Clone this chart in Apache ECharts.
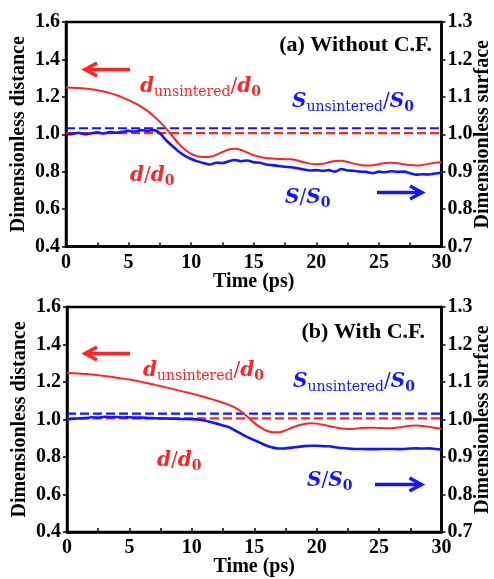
<!DOCTYPE html>
<html>
<head>
<meta charset="utf-8">
<script src="https://cdn.jsdelivr.net/npm/echarts@6/dist/echarts.min.js"></script>
<style>
  html, body { margin: 0; padding: 0; background: #fff; }
  #chart { width: 494px; height: 579px; }
</style>
</head>
<body>
<div id="chart"></div>
<script>
// Sampling times (ps), shared by both panels
const time = [0,0.5,1,1.5,2,2.5,3,3.5,4,4.5,5,5.5,6,6.5,7,7.5,8,8.5,9,9.5,10,10.5,11,11.5,12,12.5,13,13.5,14,14.5,15,15.5,16,16.5,17,17.5,18,18.5,19,19.5,20,20.5,21,21.5,22,22.5,23,23.5,24,24.5,25,25.5,26,26.5,27,27.5,28,28.5,29,29.5,30];

// (a) Without C.F.: dimensionless distance d/d0 (left axis)
const distA = [1.250,1.249,1.247,1.244,1.240,1.235,1.228,1.220,1.210,1.197,1.182,1.166,1.148,1.125,1.098,1.066,1.030,0.990,0.950,0.918,0.895,0.882,0.878,0.880,0.890,0.905,0.918,0.922,0.916,0.902,0.888,0.878,0.873,0.870,0.868,0.867,0.866,0.860,0.850,0.843,0.840,0.842,0.850,0.857,0.858,0.852,0.843,0.836,0.833,0.834,0.840,0.846,0.848,0.845,0.840,0.835,0.833,0.836,0.842,0.848,0.850];
// (a) Without C.F.: dimensionless surface S/S0 (right axis)
const surfA = [1.000,1.001,1.004,1.000,1.0025,1.005,1.002,1.006,1.004,1.0065,1.009,1.007,1.011,1.009,1.011,1.0025,0.984,0.9685,0.954,0.9425,0.934,0.9275,0.923,0.919,0.924,0.923,0.928,0.931,0.928,0.930,0.925,0.924,0.919,0.9175,0.915,0.913,0.912,0.909,0.906,0.903,0.904,0.902,0.904,0.900,0.907,0.903,0.9025,0.900,0.8995,0.896,0.900,0.8985,0.901,0.8995,0.900,0.896,0.892,0.893,0.8925,0.895,0.898];
// (a) unsintered reference levels
const distUnsinteredA = 1.006;
const surfUnsinteredA = 1.016;

// (b) With C.F.: dimensionless distance d/d0 (left axis)
const distB = [1.248,1.247,1.245,1.243,1.240,1.236,1.232,1.228,1.223,1.218,1.213,1.207,1.200,1.193,1.186,1.178,1.170,1.162,1.154,1.146,1.138,1.129,1.120,1.110,1.100,1.089,1.077,1.062,1.040,1.012,0.982,0.958,0.940,0.932,0.932,0.942,0.956,0.968,0.976,0.980,0.978,0.972,0.965,0.958,0.952,0.950,0.951,0.954,0.956,0.956,0.955,0.954,0.954,0.957,0.962,0.967,0.968,0.965,0.961,0.955,0.950];
// (b) With C.F.: dimensionless surface S/S0 (right axis)
const surfB = [1.000,1.002,1.003,1.004,1.006,1.005,1.007,1.006,1.0065,1.0055,1.006,1.005,1.005,1.004,1.0035,1.003,1.0025,1.002,1.0015,1.0015,1.001,1.000,0.9975,0.9935,0.989,0.984,0.979,0.970,0.961,0.9525,0.945,0.9375,0.930,0.925,0.9225,0.923,0.925,0.927,0.929,0.930,0.930,0.929,0.9285,0.926,0.924,0.9225,0.9215,0.9215,0.921,0.921,0.921,0.9215,0.9215,0.921,0.9215,0.9225,0.923,0.9225,0.923,0.9215,0.920];
// (b) unsintered reference levels
const distUnsinteredB = 1.006;
const surfUnsinteredB = 1.0155;

// Axis ranges and tick steps
const timeRange = [0, 30], timeStep = 2.5;
const distRange = [0.4, 1.6], distStep = 0.2;
const surfRange = [0.7, 1.3], surfStep = 0.1;

const RED = '#ff2424';
const BLUE = '#1414ff';
const SERIF = 'Liberation Serif';
const MATH = 'DejaVu Serif';

const pairs = (xs, ys) => xs.map((x, i) => [x, ys[i]]);
const flat = v => [[timeRange[0], v], [timeRange[1], v]];

function xAxisFor(gridIndex) {
  return {
    type: 'value', gridIndex, min: timeRange[0], max: timeRange[1], interval: timeStep,
    name: 'Time (ps)', nameLocation: 'middle', nameGap: 25, nameMoveOverlap: false,
    nameTextStyle: { fontFamily: SERIF, fontWeight: 'bold', fontSize: 20, color: '#000' },
    axisLine: { lineStyle: { color: '#000', width: 2.5 } },
    axisTick: { inside: true, length: 4, lineStyle: { color: '#000', width: 1.5 } },
    axisLabel: {
      margin: 6, fontFamily: SERIF, fontWeight: 'bold', fontSize: 20, color: '#000',
      formatter: v => (v % 5 === 0 ? String(v) : '')
    },
    splitLine: { show: false }
  };
}

function leftAxisFor(gridIndex) {
  return {
    type: 'value', gridIndex, position: 'left', min: distRange[0], max: distRange[1], interval: distStep,
    name: 'Dimensionless distance', nameLocation: 'middle', nameGap: 37, nameRotate: 90,
    nameMoveOverlap: false,
    nameTextStyle: { fontFamily: SERIF, fontWeight: 'bold', fontSize: 20, color: '#000' },
    axisLine: { show: true, lineStyle: { color: '#000', width: 2.5 } },
    axisTick: { show: true, length: 4, lineStyle: { color: '#000', width: 1.5 } },
    axisLabel: { margin: 6, fontFamily: SERIF, fontWeight: 'bold', fontSize: 20, color: '#000',
      formatter: v => v.toFixed(1) },
    splitLine: { show: false }
  };
}

function rightAxisFor(gridIndex) {
  return {
    type: 'value', gridIndex, position: 'right', min: surfRange[0], max: surfRange[1], interval: surfStep,
    name: 'Dimensionless surface', nameLocation: 'middle', nameGap: 31, nameRotate: 90,
    nameMoveOverlap: false,
    nameTextStyle: { fontFamily: SERIF, fontWeight: 'bold', fontSize: 20, color: '#000' },
    axisLine: { show: true, lineStyle: { color: '#000', width: 2.5 } },
    axisTick: { show: true, length: 4, lineStyle: { color: '#000', width: 1.5 } },
    axisLabel: { margin: 6, fontFamily: SERIF, fontWeight: 'bold', fontSize: 20, color: '#000',
      formatter: v => v.toFixed(1) },
    splitLine: { show: false }
  };
}

function lineSeries(xi, yi, data, color, width, dashed) {
  return {
    type: 'line', xAxisIndex: xi, yAxisIndex: yi, data,
    showSymbol: false, smooth: dashed ? false : 0.25, silent: true,
    lineStyle: { color, width, type: dashed ? [9, 4] : 'solid' },
    z: dashed ? 2 : 3
  };
}

// Math-style label: italic bold symbols with upright subscripts
function mathText(color, sym, sub, sym2, sub2) {
  let text = '{v|' + sym + '}';
  if (sub) text += '{s|' + sub + '}';
  text += '{sl|/}{v|' + sym2 + '}{z|' + sub2 + '}';
  return {
    text,
    rich: {
      v: { fontFamily: MATH, fontStyle: 'italic', fontWeight: 'bold', fontSize: 20, lineHeight: 24, fill: color },
      s: { fontFamily: MATH, fontSize: 14, lineHeight: 15, verticalAlign: 'bottom', fill: color },
      sl: { fontFamily: MATH, fontSize: 20, lineHeight: 24, fill: color },
      z: { fontFamily: MATH, fontWeight: 'bold', fontSize: 14, lineHeight: 15, verticalAlign: 'bottom', fill: color }
    },
    verticalAlign: 'top'
  };
}

function label(x, y, style) {
  return { type: 'text', x, y, z: 10, style };
}

function arrow(x1, x2, y, color) {
  // shaft from x1 to tip x2, with an open head at the tip
  const dir = x2 > x1 ? 1 : -1;
  return {
    type: 'group', z: 10,
    children: [
      { type: 'line', shape: { x1, y1: y, x2: x2 - dir * 2, y2: y },
        style: { stroke: color, lineWidth: 3.5 } },
      { type: 'polyline', shape: { points: [[x2 - dir * 12, y - 6.5], [x2, y], [x2 - dir * 12, y + 6.5]] },
        style: { stroke: color, lineWidth: 3.5, fill: 'none', lineJoin: 'miter' } }
    ]
  };
}

function panelTitle(xRight, yMid, text) {
  return { type: 'text', x: xRight, y: yMid, z: 10,
    style: { text, align: 'right', verticalAlign: 'middle',
      font: 'bold 22px "' + SERIF + '"', fill: '#000' } };
}

const chart = echarts.init(document.getElementById('chart'), null, { renderer: 'canvas' });

const gridBase = { show: true, borderColor: '#000', borderWidth: 2.5, backgroundColor: 'transparent',
  containLabel: false, outerBoundsMode: 'none' };

chart.setOption({
  backgroundColor: '#fff',
  animation: false,
  grid: [
    Object.assign({ left: 66, top: 22, width: 375.5, height: 224.5 }, gridBase),
    Object.assign({ left: 67, top: 307, width: 374.5, height: 225 }, gridBase)
  ],
  xAxis: [xAxisFor(0), xAxisFor(1)],
  yAxis: [leftAxisFor(0), rightAxisFor(0), leftAxisFor(1), rightAxisFor(1)],
  series: [
    lineSeries(0, 0, flat(distUnsinteredA), RED, 2.2, true),
    lineSeries(0, 1, flat(surfUnsinteredA), BLUE, 2.2, true),
    lineSeries(0, 0, pairs(time, distA), RED, 2),
    lineSeries(0, 1, pairs(time, surfA), BLUE, 2.6),

    lineSeries(1, 2, flat(distUnsinteredB), RED, 2.2, true),
    lineSeries(1, 3, flat(surfUnsinteredB), BLUE, 2.2, true),
    lineSeries(1, 2, pairs(time, distB), RED, 2),
    lineSeries(1, 3, pairs(time, surfB), BLUE, 2.6)
  ],
  graphic: [
    panelTitle(432, 45, '(a) Without C.F.'),
    arrow(130, 85, 69.5, RED),
    label(140, 75, mathText(RED, 'd', 'unsintered', 'd', '0')),
    label(292, 90, mathText(BLUE, 'S', 'unsintered', 'S', '0')),
    label(130, 164, mathText(RED, 'd', '', 'd', '0')),
    label(285, 186, mathText(BLUE, 'S', '', 'S', '0')),
    arrow(377, 422, 192.5, BLUE),

    panelTitle(425, 332, '(b) With C.F.'),
    arrow(130, 85, 353.5, RED),
    label(143, 359, mathText(RED, 'd', 'unsintered', 'd', '0')),
    label(293, 370, mathText(BLUE, 'S', 'unsintered', 'S', '0')),
    label(157, 449, mathText(RED, 'd', '', 'd', '0')),
    label(307, 469, mathText(BLUE, 'S', '', 'S', '0')),
    arrow(375, 421.5, 484.5, BLUE)
  ]
});
</script>
</body>
</html>
